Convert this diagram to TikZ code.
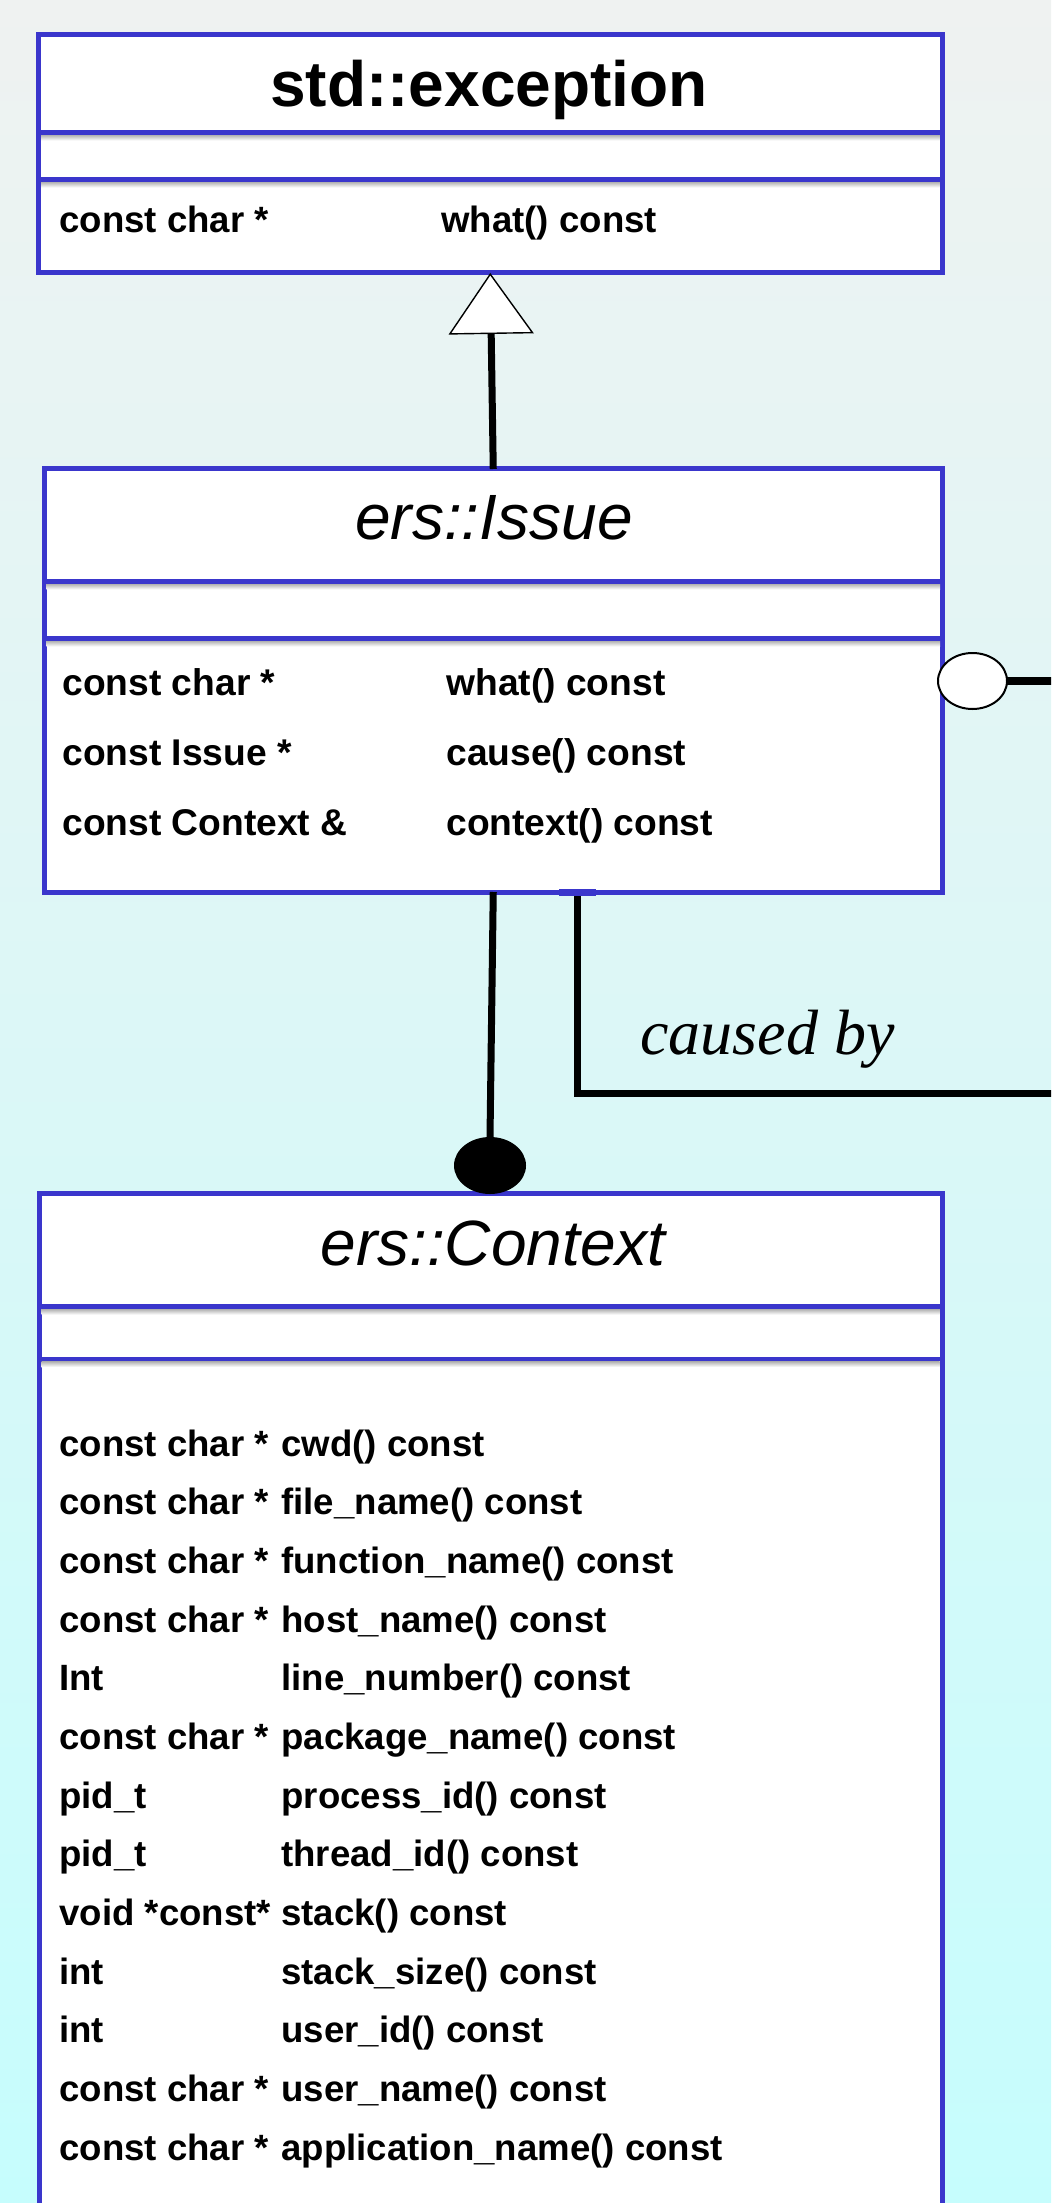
\documentclass[tikz,border=0pt]{standalone}
\usepackage{fontspec}
\setmainfont{Liberation Sans}
\newfontfamily\labelserif{Liberation Serif}
\usetikzlibrary{arrows.meta,shapes.geometric}

\definecolor{umlblue}{RGB}{58,54,204}
\definecolor{bgtop}{RGB}{239,242,241}
\definecolor{bgbottom}{RGB}{198,253,253}

\tikzset{
  classbox/.style={rectangle, draw=umlblue, line width=2.5pt, fill=white,
    inner sep=0pt, outer sep=0pt, anchor=north west},
  classtitle/.style={inner sep=0pt, anchor=base},
  member/.style={inner sep=0pt, anchor=base west,
    font=\bfseries\fontsize{18.3}{22}\selectfont},
  link/.style={draw=black, line width=3.6pt},
  endpoint/.style={ellipse, inner sep=0pt, outer sep=0pt},
}

% separator between the compartments of a class box, with its soft shadow
\newcommand\compartmentline[3]{%
  \shade[top color=black!32, bottom color=white] (#2+2.5,#1+2.2) rectangle (#3-2.5,#1+8);
  \draw[umlblue, line width=2.25pt] (#2,#1) -- (#3,#1);
}

\begin{document}
\begin{tikzpicture}[x=0.5pt, y=-0.5pt]
\useasboundingbox (0,0) rectangle (1051,2203);
\clip (0,0) rectangle (1051,2203);
\shade[top color=bgtop, bottom color=bgbottom] (0,0) rectangle (1051,2203);

% ---------------- std::exception ----------------
\node[classbox, minimum width=451.75pt, minimum height=119.25pt] (exc) at (38.5,34.5) {};
\compartmentline{132.5}{38.5}{942}
\compartmentline{179.5}{38.5}{942}
\node[classtitle, font=\bfseries\fontsize{32}{38}\selectfont] (excname) at (489,107) {std::exception};
\node[member] (excT1) at (59,233) {const char *};
\node[member] (excM1) at (441,233) {what() const};

% ---------------- ers::Issue ----------------
\node[classbox, minimum width=449.25pt, minimum height=211.5pt] (issue) at (44,469) {};
\compartmentline{581.5}{44}{942.5}
\compartmentline{638.5}{44}{942.5}
\node[classtitle, font=\itshape\fontsize{32}{38}\selectfont] (issuename) at (494,540) {ers::Issue};
\node[member, font=\bfseries\fontsize{18.6}{22}\selectfont] (issT1) at (62,695) {const char *};
\node[member, font=\bfseries\fontsize{18.6}{22}\selectfont] (issM1) at (446,695) {what() const};
\node[member, font=\bfseries\fontsize{18.6}{22}\selectfont] (issT2) at (62,765) {const Issue *};
\node[member, font=\bfseries\fontsize{18.6}{22}\selectfont] (issM2) at (446,765) {cause() const};
\node[member, font=\bfseries\fontsize{18.6}{22}\selectfont] (issT3) at (62,835) {const Context \&};
\node[member, font=\bfseries\fontsize{18.6}{22}\selectfont] (issM3) at (446,835) {context() const};

% ---------------- ers::Context ----------------
\node[classbox, minimum width=451.5pt, minimum height=540pt] (ctx) at (39,1193.5) {};
\compartmentline{1306.7}{39}{942}
\compartmentline{1359}{39}{942}
\node[classtitle, font=\itshape\fontsize{32}{38}\selectfont] (ctxname) at (493,1265) {ers::Context};
\foreach \t/\m [count=\i from 0] in {
    const char */cwd() const,
    const char */file\_name() const,
    const char */function\_name() const,
    const char */host\_name() const,
    Int/line\_number() const,
    const char */package\_name() const,
    pid\_t/process\_id() const,
    pid\_t/thread\_id() const,
    void *const*/stack() const,
    int/stack\_size() const,
    int/user\_id() const,
    const char */user\_name() const,
    const char */application\_name() const} {
  \node[member] (ctxT\i) at (59,1456+58.67*\i) {\t};
  \node[member] (ctxM\i) at (281,1456+58.67*\i) {\m};
}

% ---------------- relations ----------------
% generalisation: ers::Issue derives from std::exception
\draw[link, line width=3.5pt,
  -{Triangle[length=30.5pt, width=42.5pt, fill=white, line width=0.7pt]}]
  (issue.north) -- (exc.south);

% composition: ers::Issue holds an ers::Context
\node[endpoint, fill=black, minimum width=36pt, minimum height=28.5pt] (ctxdot) at (490,1165.5) {};
\draw[link, line width=3.5pt] (issue.south) -- (ctxdot.north);

% association towards the right-hand side
\node[endpoint, draw=black, line width=1pt, fill=white, minimum width=34.5pt, minimum height=28pt] (issuedot) at (972.5,681) {};
\coordinate (aggEnd) at (1060,681);
\draw[link] (issuedot.east) -- (aggEnd);

% "caused by" link leaving the bottom of ers::Issue
\node[rectangle, fill=umlblue, inner sep=0pt, outer sep=0pt,
  minimum width=18.5pt, minimum height=3.5pt] (causetab) at (577.5,892.5) {};
\coordinate (causeEnd) at (1060,1093.5);
\draw[link] (causetab.south) |- (causeEnd);
\node[inner sep=0pt, anchor=base west, font=\labelserif\itshape\fontsize{32}{38}\selectfont]
  (causelabel) at (640,1054) {caused by};
\end{tikzpicture}
\end{document}
